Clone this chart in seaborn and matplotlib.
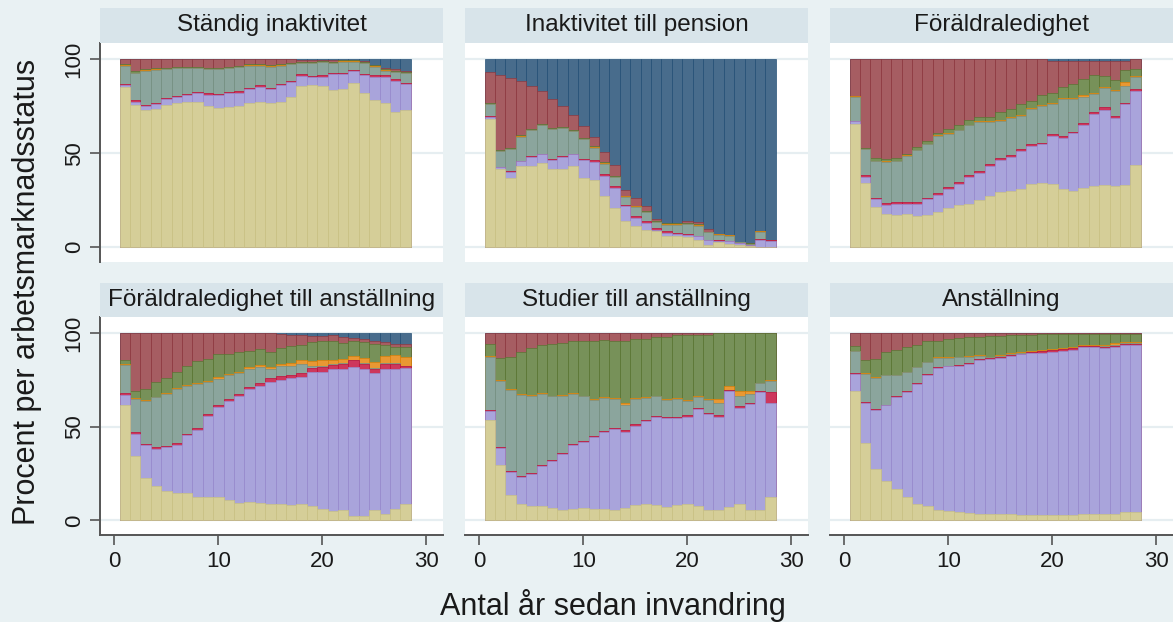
import matplotlib
matplotlib.use("Agg")
import matplotlib.pyplot as plt
from matplotlib.patches import Rectangle
import seaborn as sns

# ---------------- data ----------------
years = list(range(1, 29))
panel_titles = ["Ständig inaktivitet", "Inaktivitet till pension", "Föräldraledighet",
                "Föräldraledighet till anställning", "Studier till anställning", "Anställning"]
y_ticks = [0, 50, 100]
x_ticks = [0, 10, 20, 30]
y_title = "Procent per arbetsmarknadsstatus"
x_title = "Antal år sedan invandring"

# cumulative share (%) up to and including each status, bottom -> top
# status order: khaki, lavender, cranberry, teal, dkorange, forest_green, maroon, navy(=100)
total = [100.0] * 28

khaki1 = [85.0, 75.5, 73.0, 73.7, 75.7, 76.6, 77.3, 77.3, 75.1, 74.2, 74.6, 74.8, 76.4, 77.3, 76.9, 77.4, 79.9, 85.8, 86.1, 85.6, 83.5, 84.0, 87.2, 82.2, 78.3, 76.6, 71.9, 73.0]
lav1 = [86.1, 77.3, 75.1, 76.0, 78.7, 79.9, 80.8, 81.9, 81.0, 80.8, 81.9, 82.2, 84.0, 85.3, 84.0, 86.1, 87.6, 91.1, 90.2, 90.6, 92.0, 92.0, 93.4, 91.5, 90.6, 90.6, 88.5, 86.7]
cran1 = [86.8, 78.0, 75.8, 76.7, 79.4, 80.6, 81.5, 82.6, 81.7, 81.5, 82.6, 82.9, 84.7, 86.0, 84.7, 86.8, 88.3, 91.8, 90.9, 91.3, 92.7, 92.7, 94.1, 92.2, 91.3, 91.3, 89.2, 87.4]
teal1 = [96.4, 92.4, 93.8, 94.3, 94.7, 95.0, 95.2, 95.0, 94.7, 94.7, 95.0, 95.6, 96.4, 96.4, 95.9, 96.4, 97.3, 97.7, 97.7, 98.2, 97.7, 98.6, 98.6, 97.7, 95.9, 93.8, 92.9, 92.5]
orng1 = [96.6, 92.6, 94.0, 94.5, 94.9, 95.2, 95.4, 95.2, 94.9, 94.9, 95.2, 95.8, 96.6, 96.6, 96.1, 96.6, 97.5, 97.9, 97.9, 98.4, 97.9, 98.8, 98.8, 97.9, 96.1, 94.0, 93.1, 92.7]
forest1 = [97.1, 93.4, 94.8, 95.0, 95.4, 95.7, 95.9, 95.7, 95.4, 95.4, 95.7, 96.3, 97.1, 97.1, 96.6, 97.1, 98.0, 98.4, 98.4, 98.9, 98.4, 99.3, 99.3, 98.4, 96.6, 94.5, 93.6, 93.2]
maroon1 = [100.0] * 17 + [99.5] * 6 + [99.0, 97.0, 95.0, 94.5, 93.5]

khaki2 = [68.0, 41.4, 36.9, 43.2, 43.2, 44.9, 41.4, 41.7, 43.2, 36.9, 35.5, 27.2, 21.0, 14.2, 11.5, 9.4, 8.5, 6.2, 5.9, 5.5, 4.1, 1.4, 2.7, 1.8, 1.1, 0.5, 0.2, 0.2]
lav2 = [69.3, 42.6, 40.1, 45.8, 48.0, 49.4, 46.4, 48.1, 49.4, 46.4, 45.5, 37.8, 31.6, 21.8, 15.6, 13.0, 9.4, 7.6, 7.1, 6.7, 5.9, 3.7, 3.6, 3.2, 2.3, 1.1, 4.1, 3.6]
cran2 = [69.6, 42.9, 40.4, 46.1, 48.3, 49.7, 46.7, 48.4, 49.7, 46.7, 46.3, 38.8, 32.4, 22.6, 16.6, 14.0, 10.2, 8.4, 7.6, 7.2, 6.2, 4.0, 3.8, 3.4, 2.5, 1.2, 4.2, 3.7]
teal2 = [76.0, 51.2, 52.0, 58.8, 62.2, 65.0, 62.7, 63.2, 61.8, 57.4, 52.9, 44.4, 37.3, 26.8, 21.5, 18.8, 13.3, 12.1, 12.1, 12.4, 11.5, 8.0, 6.7, 6.2, 2.7, 1.8, 8.2, 3.7]
orng2 = [76.2, 51.4, 52.2, 59.0, 62.4, 65.2, 62.9, 63.4, 62.0, 57.6, 53.1, 44.6, 37.5, 27.0, 21.7, 19.0, 13.5, 12.3, 12.3, 12.6, 11.7, 8.2, 6.9, 6.4, 2.9, 2.0, 8.4, 3.9]
forest2 = [76.7, 51.9, 52.7, 59.5, 62.9, 65.7, 63.4, 63.9, 62.5, 58.1, 53.6, 45.1, 38.0, 27.5, 22.2, 19.5, 14.0, 12.8, 12.8, 13.1, 12.2, 8.3, 7.0, 6.5, 3.0, 2.1, 8.5, 4.0]
maroon2 = [92.9, 91.7, 89.7, 88.1, 85.8, 82.8, 78.7, 75.1, 70.3, 64.5, 58.6, 50.6, 43.5, 30.7, 26.0, 22.2, 15.3, 13.0, 13.0, 13.9, 13.3, 9.8, 7.3, 6.6, 3.0, 2.1, 8.5, 4.0]

khaki3 = [65.4, 34.3, 21.5, 17.8, 17.4, 17.8, 16.5, 17.4, 19.0, 21.0, 22.4, 23.1, 24.9, 27.2, 29.5, 29.8, 31.0, 33.4, 34.3, 33.8, 31.0, 29.8, 31.6, 32.5, 33.0, 32.5, 33.0, 43.5]
lav3 = [67.1, 37.3, 25.4, 22.7, 23.1, 23.1, 23.1, 25.4, 27.7, 31.1, 33.7, 37.3, 39.6, 43.2, 46.4, 48.0, 51.2, 53.8, 54.7, 59.1, 58.3, 60.6, 65.0, 70.7, 73.0, 68.9, 76.0, 83.1]
cran3 = [67.3, 38.2, 26.3, 23.6, 24.0, 24.0, 24.0, 26.3, 28.6, 32.0, 34.6, 38.2, 40.5, 44.1, 47.3, 48.9, 52.1, 54.7, 55.6, 60.0, 59.2, 61.5, 65.9, 72.0, 74.3, 69.8, 76.9, 84.0]
teal3 = [79.9, 52.0, 45.8, 45.5, 45.8, 48.5, 51.5, 54.7, 59.1, 60.3, 62.2, 64.8, 66.3, 66.3, 67.1, 68.6, 69.8, 73.4, 75.1, 76.0, 78.7, 78.7, 79.9, 81.3, 84.5, 83.1, 85.8, 90.6]
orng3 = [80.2, 52.3, 46.1, 45.8, 46.1, 48.8, 51.8, 55.0, 59.4, 60.6, 62.5, 65.2, 66.9, 66.9, 67.5, 69.0, 70.2, 73.8, 75.5, 76.4, 79.1, 79.1, 80.9, 81.7, 84.9, 83.5, 87.6, 91.0]
forest3 = [80.5, 52.9, 47.2, 46.7, 47.2, 49.4, 53.3, 56.5, 60.9, 62.7, 65.0, 67.5, 69.3, 69.3, 71.6, 73.4, 76.0, 77.8, 80.8, 82.2, 84.9, 86.7, 89.3, 91.5, 91.1, 88.8, 94.1, 94.7]
maroon3 = [100.0] * 19 + [99.2] * 8 + [100.0]

khaki4 = [61.8, 34.6, 22.7, 18.3, 15.5, 14.6, 14.6, 12.4, 12.4, 12.4, 11.0, 9.2, 9.8, 9.2, 8.5, 8.9, 8.0, 8.5, 7.5, 6.2, 4.8, 5.3, 2.1, 2.1, 5.3, 3.6, 6.2, 8.9]
lav4 = [67.0, 46.2, 40.0, 38.2, 39.1, 40.3, 45.3, 48.3, 55.9, 60.7, 63.9, 66.6, 70.1, 71.9, 73.7, 74.9, 76.0, 76.7, 79.0, 79.0, 80.8, 80.8, 81.7, 80.8, 78.5, 80.8, 80.8, 81.2]
cran4 = [67.8, 47.0, 40.8, 39.0, 39.9, 41.1, 46.1, 49.1, 56.7, 61.5, 64.8, 67.6, 71.3, 73.4, 75.7, 76.9, 77.8, 78.5, 81.2, 81.7, 83.1, 83.5, 85.3, 83.5, 80.8, 83.5, 83.5, 82.1]
teal4 = [83.1, 64.8, 63.9, 65.7, 67.5, 70.1, 71.9, 72.8, 73.7, 75.5, 77.3, 78.5, 80.8, 81.7, 80.8, 82.1, 82.6, 83.5, 82.5, 82.5, 83.6, 84.0, 85.5, 84.0, 81.5, 84.0, 84.0, 82.5]
orng4 = [83.4, 65.1, 64.2, 66.0, 67.9, 70.5, 72.4, 73.3, 74.3, 76.3, 78.1, 79.4, 81.8, 82.8, 82.0, 83.3, 84.1, 85.5, 85.0, 85.3, 85.6, 86.0, 87.5, 86.5, 84.4, 87.5, 88.0, 87.0]
forest4 = [85.3, 68.9, 70.1, 73.7, 76.0, 79.0, 82.6, 84.9, 86.1, 88.5, 88.8, 89.7, 90.6, 91.5, 89.7, 92.0, 92.9, 93.8, 95.0, 95.6, 95.9, 94.5, 95.6, 95.0, 94.1, 93.3, 92.4, 92.4]
maroon4 = [100.0] * 15 + [99.5, 99.0, 99.0, 98.5, 98.5, 99.0, 98.0, 97.5, 97.0, 95.5, 95.0, 94.0, 94.0]

khaki5 = [53.6, 29.3, 13.7, 8.9, 7.6, 7.5, 6.7, 5.7, 6.2, 6.6, 6.2, 6.2, 5.7, 6.7, 8.0, 8.5, 8.0, 7.1, 8.0, 8.5, 7.5, 5.3, 5.7, 7.1, 8.9, 5.7, 5.7, 12.4]
lav5 = [58.1, 38.5, 25.8, 23.1, 24.9, 29.0, 31.5, 35.2, 40.3, 41.7, 44.4, 47.1, 48.8, 47.4, 50.6, 52.9, 55.1, 54.7, 54.7, 55.1, 59.5, 56.5, 55.1, 68.9, 60.1, 62.2, 68.4, 62.5]
cran5 = [58.7, 39.1, 26.4, 23.7, 25.5, 29.6, 32.1, 35.8, 40.9, 42.3, 45.0, 47.7, 49.4, 48.0, 51.2, 53.5, 55.7, 55.3, 55.3, 56.4, 60.1, 57.1, 56.3, 69.5, 60.9, 62.8, 69.0, 68.4]
teal5 = [87.3, 74.6, 69.6, 67.0, 66.6, 67.5, 66.1, 66.6, 67.5, 66.1, 64.3, 65.2, 64.8, 61.8, 64.8, 65.4, 66.1, 64.3, 64.8, 63.6, 65.7, 64.3, 62.5, 69.6, 66.6, 67.5, 73.2, 74.6]
orng5 = [87.8, 75.1, 70.1, 67.5, 67.1, 68.0, 66.6, 67.1, 68.0, 66.6, 64.8, 65.7, 65.3, 62.8, 65.3, 65.9, 66.6, 64.8, 65.3, 64.1, 66.2, 64.8, 65.0, 71.9, 68.9, 68.9, 73.5, 74.9]
forest5 = [94.1, 86.7, 87.3, 89.7, 91.8, 93.3, 94.1, 94.5, 95.6, 95.6, 95.9, 96.3, 95.9, 95.6, 96.8, 96.8, 97.7, 98.0, 99.1, 99.1, 99.1, 98.9, 99.8, 100.0, 100.0, 100.0, 100.0, 100.0]
maroon5 = [100.0] * 28

khaki6 = [68.9, 41.2, 27.2, 20.8, 16.9, 12.4, 8.9, 7.6, 5.7, 4.8, 4.4, 4.1, 3.6, 3.6, 3.6, 3.2, 3.0, 2.7, 3.0, 3.0, 2.7, 2.7, 3.2, 3.2, 3.2, 3.2, 4.4, 4.4]
lav6 = [78.2, 62.7, 59.0, 61.3, 65.7, 68.4, 72.8, 77.8, 81.3, 82.1, 82.6, 83.5, 85.6, 86.1, 86.7, 87.9, 88.5, 89.2, 89.3, 89.7, 90.2, 90.9, 92.4, 92.4, 92.0, 92.7, 93.6, 93.6]
cran6 = [78.5, 63.2, 59.5, 61.8, 66.2, 68.9, 73.3, 78.3, 81.8, 82.6, 83.1, 84.0, 86.1, 86.6, 87.2, 88.4, 89.0, 89.7, 90.3, 90.7, 91.2, 91.9, 92.9, 92.9, 92.5, 93.2, 94.1, 94.1]
teal6 = [90.2, 78.2, 76.0, 77.3, 77.3, 79.0, 81.7, 84.4, 86.7, 86.7, 87.0, 87.4, 87.9, 86.9, 87.5, 88.7, 89.3, 90.0, 90.6, 91.0, 91.5, 92.2, 93.2, 93.2, 92.8, 93.5, 94.4, 94.4]
orng6 = [90.5, 78.5, 76.3, 77.6, 77.6, 79.3, 82.0, 84.7, 87.1, 87.1, 87.4, 87.9, 88.4, 87.4, 88.0, 89.2, 89.8, 90.5, 91.1, 91.5, 92.0, 92.7, 93.7, 93.7, 93.7, 94.4, 95.3, 95.3]
forest6 = [93.1, 85.3, 86.1, 89.7, 90.9, 92.4, 93.8, 95.6, 95.9, 96.8, 97.3, 97.7, 98.0, 98.4, 98.6, 98.8, 98.9, 99.1, 99.5, 99.5, 99.5, 99.5, 99.5, 99.5, 99.5, 99.5, 99.5, 99.5]
maroon6 = [100.0] * 28

panels = [
    [khaki1, lav1, cran1, teal1, orng1, forest1, maroon1, total],
    [khaki2, lav2, cran2, teal2, orng2, forest2, maroon2, total],
    [khaki3, lav3, cran3, teal3, orng3, forest3, maroon3, total],
    [khaki4, lav4, cran4, teal4, orng4, forest4, maroon4, total],
    [khaki5, lav5, cran5, teal5, orng5, forest5, maroon5, total],
    [khaki6, lav6, cran6, teal6, orng6, forest6, maroon6, total],
]

# ---------------- style ----------------
base_rgb = [(202, 194, 126), (147, 141, 210), (193, 5, 52), (110, 142, 132),
            (227, 126, 0), (85, 117, 47), (144, 53, 59), (26, 71, 111)]
edge_cols = [tuple(c / 255 for c in rgb) for rgb in base_rgb]
fill_cols = [tuple((0.8 * c + 0.2 * 255) / 255 for c in rgb) for rgb in base_rgb]

BG = "#e9f1f3"
STRIP = "#d8e4ea"
GRID = "#e6eef1"
AX = "#555555"
TXT = "#1a1a1a"

sns.set_theme(style="white")
plt.rcParams["font.family"] = ["Liberation Sans", "DejaVu Sans"]

W, H = 1173, 622
fig = plt.figure(figsize=(W / 100, H / 100), dpi=100, facecolor=BG)

col_x = [100, 465, 830]
pw = 343
rows = [(43, 262), (317, 535)]
strips = [(8, 43), (283, 317)]

for i, cum in enumerate(panels):
    r, c = divmod(i, 3)
    yt, yb = rows[r]
    x0 = col_x[c]
    ax = fig.add_axes([x0 / W, 1 - yb / H, pw / W, (yb - yt) / H])
    ax.set_facecolor("white")
    # draw from top status (full height) down to bottom status so overlaps form the stack
    for k in range(7, -1, -1):
        sns.barplot(x=years, y=cum[k], native_scale=True, width=1.0, color=fill_cols[k],
                    saturation=1, edgecolor=edge_cols[k], linewidth=0.45,
                    errorbar=None, ax=ax, zorder=2 + (7 - k) * 0.01)
    ax.set_xlim(-1.39, 31.6)
    ax.set_ylim(-7.8, 108.5)
    ax.set_xticks(x_ticks)
    ax.set_yticks(y_ticks)
    ax.set_xlabel("")
    ax.set_ylabel("")
    ax.yaxis.grid(True, color=GRID, lw=1.6)
    ax.xaxis.grid(False)
    ax.set_axisbelow(True)
    for s in ax.spines.values():
        s.set_visible(False)
    ax.tick_params(axis="both", length=7, width=1.2, color=AX, labelsize=16, labelcolor=TXT)
    if c == 0:
        ax.spines["left"].set_visible(True)
        ax.spines["left"].set_color(AX)
        ax.spines["left"].set_linewidth(1.4)
        ax.tick_params(axis="y", left=True, labelleft=True, pad=4)
        ax.set_yticklabels([str(v) for v in y_ticks])
        for lab in ax.get_yticklabels():
            lab.set_rotation(90)
            lab.set_va("center")
    else:
        ax.tick_params(axis="y", left=False, labelleft=False)
    if r == 1:
        ax.spines["bottom"].set_visible(True)
        ax.spines["bottom"].set_color(AX)
        ax.spines["bottom"].set_linewidth(1.4)
        ax.tick_params(axis="x", bottom=True, labelbottom=True, pad=4.5)
        ax.set_xticklabels([str(v) for v in x_ticks])
    else:
        ax.tick_params(axis="x", bottom=False, labelbottom=False)

    st, sb = strips[r]
    fig.add_artist(Rectangle((x0 / W, 1 - sb / H), pw / W, (sb - st) / H,
                             transform=fig.transFigure, facecolor=STRIP, edgecolor="none"))
    fig.text((x0 + pw / 2) / W, 1 - (st + sb) / 2 / H, panel_titles[i],
             ha="center", va="center", fontsize=17.5, color=TXT)

fig.text(27 / W, 1 - 292 / H, y_title, rotation=90, ha="center", va="center",
         fontsize=22, color=TXT)
fig.text(613 / W, 1 - 605 / H, x_title, ha="center", va="center", fontsize=22, color=TXT)

fig.savefig("out.png", dpi=100, facecolor=BG)
